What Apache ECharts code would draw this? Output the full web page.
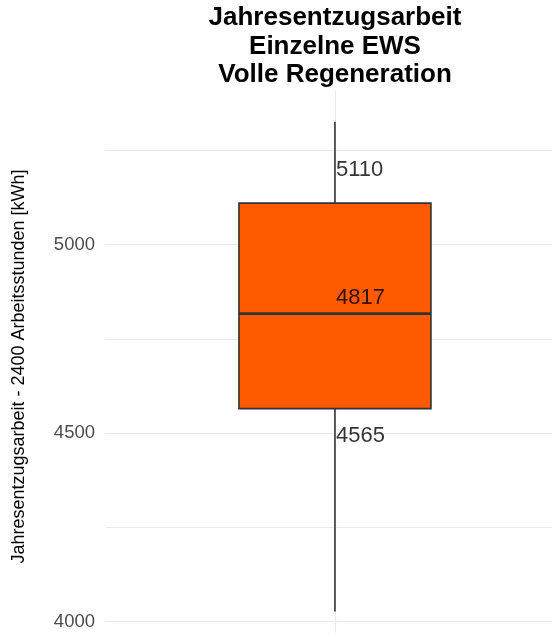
<!DOCTYPE html>
<html>
<head>
<meta charset="utf-8">
<script src="https://cdn.jsdelivr.net/npm/echarts@6/dist/echarts.min.js"></script>
<style>
html, body { margin: 0; padding: 0; background: #fff; }
#chart { width: 552px; height: 635px; }
</style>
</head>
<body>
<div id="chart"></div>
<script>
// Daten
var boxStats = [[4027, 4565, 4817, 5110, 5326]]; // min, Q1, Median, Q3, max
var labelValues = [5110, 4817, 4565];
var majorTicks = [4000, 4500, 5000];
var minorTicks = [4250, 4750, 5250];

var labelShift = [-33, -16, 27]; // vertikaler Versatz der Beschriftungen

var myChart = echarts.init(document.getElementById('chart'));

var gridLines = [];
majorTicks.concat(minorTicks).forEach(function (v) {
    gridLines.push({ yAxis: v });
});
gridLines.push({ xAxis: 0 });

var option = {
    animation: false,
    graphic: [{
        type: 'text',
        x: 335,
        y: 4,
        style: {
            text: 'Jahresentzugsarbeit\nEinzelne EWS\nVolle Regeneration',
            align: 'center',
            verticalAlign: 'top',
            fontFamily: 'Liberation Sans',
            fontSize: 26,
            fontWeight: 'bold',
            lineHeight: 28.5,
            fill: '#000'
        }
    }],
    grid: {
        left: 105,
        right: 0,
        top: 90,
        bottom: 2
    },
    xAxis: {
        type: 'value',
        min: -1,
        max: 0.944,
        axisLine: { show: false },
        axisTick: { show: false },
        axisLabel: { show: false },
        splitLine: { show: false }
    },
    yAxis: {
        type: 'value',
        min: 3970,
        max: 5410,
        name: 'Jahresentzugsarbeit - 2400 Arbeitsstunden [kWh]',
        nameLocation: 'middle',
        nameGap: 77,
        nameTextStyle: {
            fontFamily: 'Liberation Sans',
            fontSize: 18,
            color: '#000',
            padding: [0, 10, 0, 0]
        },
        axisLine: { show: false },
        axisTick: { show: false },
        splitLine: { show: false },
        axisLabel: {
            customValues: majorTicks,
            formatter: function (v) { return String(v); },
            fontFamily: 'Liberation Sans',
            fontSize: 18.5,
            color: '#4d4d4d',
            margin: 10
        }
    },
    series: [
        {
            // Gitterlinien
            type: 'scatter',
            data: [],
            zlevel: 0,
            z: 0,
            silent: true,
            markLine: {
                silent: true,
                symbol: 'none',
                label: { show: false },
                lineStyle: { type: 'solid', color: '#ebebeb', width: 1.2 },
                emphasis: { disabled: true },
                data: gridLines
            }
        },
        {
            type: 'custom',
            zlevel: 1,
            data: boxStats.map(function (s) { return [0].concat(s); }),
            renderItem: function (params, api) {
                var x = api.value(0);
                var pMin = api.coord([x, api.value(1)]);
                var pQ1 = api.coord([x, api.value(2)]);
                var pMed = api.coord([x, api.value(3)]);
                var pQ3 = api.coord([x, api.value(4)]);
                var pMax = api.coord([x, api.value(5)]);
                var w = 192;
                var stroke = { stroke: '#333333', lineWidth: 1.6 };
                return {
                    type: 'group',
                    children: [
                        { type: 'line', shape: { x1: pQ3[0], y1: pMax[1], x2: pQ3[0], y2: pQ3[1] }, style: stroke },
                        { type: 'line', shape: { x1: pQ1[0], y1: pQ1[1], x2: pQ1[0], y2: pMin[1] }, style: stroke },
                        { type: 'rect', shape: { x: pQ3[0] - w / 2, y: pQ3[1], width: w, height: pQ1[1] - pQ3[1] },
                          style: { fill: '#ff5a00', stroke: '#333333', lineWidth: 1.6 } },
                        { type: 'line', shape: { x1: pMed[0] - w / 2, y1: pMed[1], x2: pMed[0] + w / 2, y2: pMed[1] },
                          style: { stroke: '#333333', lineWidth: 2.6 } }
                    ]
                };
            }
        },
        {
            type: 'scatter',
            zlevel: 2,
            symbolSize: 1,
            itemStyle: { color: 'transparent' },
            data: labelValues.map(function (v, i) {
                return {
                    value: [0, v],
                    label: {
                        show: true,
                        position: 'inside',
                        align: 'left',
                        verticalAlign: 'middle',
                        offset: [1, labelShift[i]],
                        formatter: String(v),
                        fontFamily: 'Liberation Sans',
                        fontSize: 22,
                        color: '#000',
                        textBorderWidth: 0
                    }
                };
            })
        }
    ]
};

myChart.setOption(option);
</script>
</body>
</html>
